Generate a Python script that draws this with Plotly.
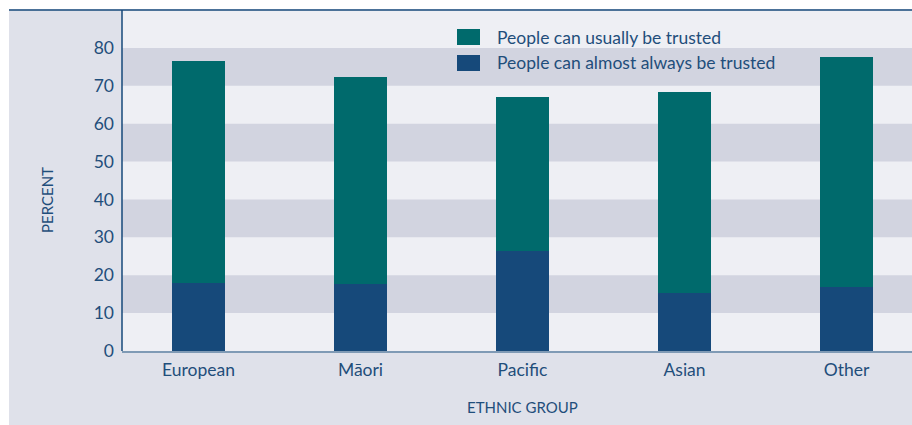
import plotly.graph_objects as go

categories = ["European", "Māori", "Pacific", "Asian", "Other"]
almost_always = [17.9, 17.7, 26.3, 15.2, 16.9]
usually = [58.7, 54.6, 40.7, 53.2, 60.7]
series_names = ["People can usually be trusted", "People can almost always be trusted"]
y_ticks = [0, 10, 20, 30, 40, 50, 60, 70, 80]

TEAL = "#006a6c"
NAVY = "#16497a"
TEXT = "#1f4e7b"
FONT = "Lato"

fig = go.Figure()
fig.add_trace(go.Bar(x=categories, y=almost_always, name=series_names[1],
                     marker=dict(color=NAVY, line=dict(width=0)), width=0.327))
fig.add_trace(go.Bar(x=categories, y=usually, name=series_names[0],
                     marker=dict(color=TEAL, line=dict(width=0)), width=0.327))

W, H = 790.0, 341.0
def px_x(p):
    return (p - 122) / W
def px_y(p):
    return (351 - p) / H

shapes = []
# alternating bands
for lo in [10, 30, 50, 70]:
    shapes.append(dict(type="rect", xref="paper", yref="y", x0=0, x1=1, y0=lo, y1=lo + 10,
                       fillcolor="#d2d4e0", line=dict(width=0), layer="below"))
# white margins outside the chart frame (left and top)
shapes.append(dict(type="rect", xref="paper", yref="paper", x0=px_x(-2), x1=px_x(9), y0=px_y(430), y1=px_y(-2),
                   fillcolor="white", line=dict(width=0), layer="above"))
shapes.append(dict(type="rect", xref="paper", yref="paper", x0=px_x(-2), x1=px_x(914), y0=px_y(9.5), y1=px_y(-2),
                   fillcolor="white", line=dict(width=0), layer="above"))
# top frame line
shapes.append(dict(type="line", xref="paper", yref="paper", x0=px_x(9), x1=px_x(912), y0=px_y(10), y1=px_y(10),
                   line=dict(color=NAVY, width=1.5), layer="above"))
# y axis line
shapes.append(dict(type="line", xref="paper", yref="paper", x0=0, x1=0, y0=0, y1=1,
                   line=dict(color=NAVY, width=1.5), layer="above"))
# legend squares
shapes.append(dict(type="rect", xref="paper", yref="paper", x0=px_x(457), x1=px_x(480), y0=px_y(45), y1=px_y(29),
                   fillcolor=TEAL, line=dict(width=0)))
shapes.append(dict(type="rect", xref="paper", yref="paper", x0=px_x(457), x1=px_x(480), y0=px_y(71), y1=px_y(55),
                   fillcolor=NAVY, line=dict(width=0)))

annotations = [
    dict(text=series_names[0], xref="paper", yref="paper", x=px_x(495), y=px_y(37), xanchor="left",
         yanchor="middle", showarrow=False, font=dict(size=17.5, color=TEXT, family=FONT)),
    dict(text=series_names[1], xref="paper", yref="paper", x=px_x(495), y=px_y(63), xanchor="left",
         yanchor="middle", showarrow=False, font=dict(size=17.5, color=TEXT, family=FONT)),
    dict(text="PERCENT", xref="paper", yref="paper", x=px_x(47), y=px_y(200), textangle=-90,
         xanchor="center", yanchor="middle", showarrow=False, font=dict(size=15, color=TEXT, family=FONT)),
    dict(text="ETHNIC GROUP", xref="paper", yref="paper", x=px_x(522), y=px_y(407),
         xanchor="center", yanchor="middle", showarrow=False, font=dict(size=15, color=TEXT, family=FONT)),
]

fig.update_layout(
    width=912, height=425,
    barmode="stack",
    showlegend=False,
    paper_bgcolor="#dfe1ea",
    plot_bgcolor="#eeeff4",
    margin=dict(l=122, r=0, t=10, b=74),
    font=dict(family=FONT, color=TEXT, size=17.5),
    shapes=shapes,
    annotations=annotations,
    xaxis=dict(range=[-0.472, 4.404], showgrid=False, showline=True, linecolor="#7f9ab5",
               linewidth=1.5, ticks="", ticklabelstandoff=2,
               tickfont=dict(size=17.5, color=TEXT, family=FONT), fixedrange=True),
    yaxis=dict(range=[0, 90], tickvals=y_ticks, showgrid=False, zeroline=False, showline=False,
               ticks="", ticklabelstandoff=7,
               tickfont=dict(size=17.5, color=TEXT, family=FONT), fixedrange=True),
)

fig.write_html("out.html")
